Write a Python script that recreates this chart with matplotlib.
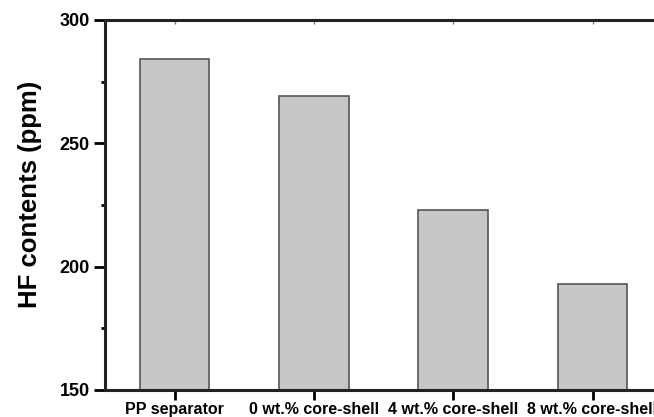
import matplotlib.pyplot as plt
from matplotlib.ticker import MultipleLocator

# HF content measured for each separator
samples = ['PP separator', '0 wt.% core-shell', '4 wt.% core-shell', '8 wt.% core-shell']
hf_ppm = [284, 269, 223, 193]

plt.rcParams['font.family'] = ['Liberation Sans', 'DejaVu Sans']
plt.rcParams['font.weight'] = 'bold'

fig = plt.figure(figsize=(6.54, 4.17), dpi=100)

# the axes run a little past the right edge, so the right spine is cut off
x_lo, x_hi = 0.5, 4.5
px_per_unit = 139.3
ax = fig.add_axes([105 / 654, 27 / 417, (x_hi - x_lo) * px_per_unit / 654, 370 / 417])

pos = list(range(1, len(samples) + 1))
ax.bar(pos, hf_ppm, width=0.5, color='#c6c7c9', edgecolor='#555555', linewidth=1.2)

ax.set_xlim(x_lo, x_hi)
ax.set_ylim(150, 300)
ax.set_xticks(pos)
ax.set_xticklabels(samples, fontsize=11.5, fontweight='bold')
ax.yaxis.set_major_locator(MultipleLocator(50))
ax.yaxis.set_minor_locator(MultipleLocator(25))
ax.tick_params(axis='y', which='major', labelsize=13, length=8, width=2, pad=3)
ax.tick_params(axis='y', which='minor', length=3, width=2)
ax.tick_params(axis='x', which='major', length=7, width=2, pad=1.5)
ax.tick_params(axis='x', which='minor', bottom=False)

# faint inward ticks along the top edge
top = ax.secondary_xaxis('top')
top.set_xticks(pos)
top.set_xticklabels([])
top.tick_params(direction='in', length=3, width=1, color='#777777')
top.spines['top'].set_visible(False)

ax.set_ylabel('HF contents (ppm)', fontsize=18.5, fontweight='bold')
ax.yaxis.set_label_coords(-0.113, 0.53)

for side in ['left', 'bottom', 'top', 'right']:
    ax.spines[side].set_linewidth(2.2)
    ax.spines[side].set_color('#222222')

fig.savefig('out.png', dpi=100)
